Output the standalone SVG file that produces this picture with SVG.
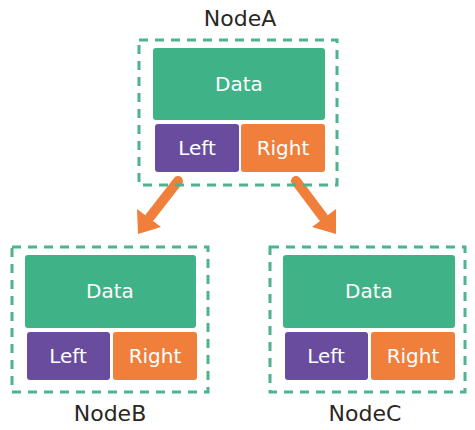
<svg xmlns="http://www.w3.org/2000/svg" width="475" height="430" viewBox="0 0 475 430">
<defs>
<style>
.frame{fill:none;stroke:#4db38a;stroke-width:3;stroke-dasharray:9 7}
.data{fill:#3fb387}
.left{fill:#6a4c9f}
.right{fill:#ef7f3a}
.in{font-family:"DejaVu Sans",sans-serif;font-size:20px;fill:#ffffff;text-anchor:middle}
.lbl{font-family:"DejaVu Sans",sans-serif;font-size:22px;fill:#2a2622;text-anchor:middle}
.shaft{stroke:#ef7f3a;stroke-width:10;fill:none;stroke-linecap:round}
.head{fill:#ef7f3a}
</style>
</defs>
<g id="connectors">
<line class="shaft" x1="178" y1="181" x2="150" y2="217"/>
<polygon class="head" points="138,234 161,227 137,209"/>
<line class="shaft" x1="296" y1="181" x2="323" y2="217"/>
<polygon class="head" points="336,234 336,209 312,227"/>
</g>
<g id="nodeA">
<text class="lbl" x="240" y="26">NodeA</text>
<rect class="frame" x="139" y="40" width="198" height="145"/>
<rect class="data" x="153" y="48" width="172" height="72" rx="3"/>
<text class="in" x="239" y="91">Data</text>
<rect class="left" x="155" y="124" width="84" height="48" rx="3"/>
<text class="in" x="197" y="155">Left</text>
<rect class="right" x="241" y="124" width="84" height="48" rx="3"/>
<text class="in" x="283" y="155">Right</text>
</g>
<g id="nodeB">
<rect class="frame" x="12" y="247" width="196" height="145"/>
<rect class="data" x="25" y="255" width="171" height="73" rx="3"/>
<text class="in" x="110" y="298">Data</text>
<rect class="left" x="27" y="332" width="83" height="48" rx="3"/>
<text class="in" x="68" y="363">Left</text>
<rect class="right" x="113" y="332" width="84" height="48" rx="3"/>
<text class="in" x="155" y="363">Right</text>
<text class="lbl" x="110" y="421">NodeB</text>
</g>
<g id="nodeC">
<rect class="frame" x="270" y="247" width="195" height="145"/>
<rect class="data" x="283" y="255" width="172" height="73" rx="3"/>
<text class="in" x="369" y="298">Data</text>
<rect class="left" x="285" y="332" width="83" height="48" rx="3"/>
<text class="in" x="326" y="363">Left</text>
<rect class="right" x="371" y="332" width="84" height="48" rx="3"/>
<text class="in" x="413" y="363">Right</text>
<text class="lbl" x="365" y="421">NodeC</text>
</g>
</svg>
